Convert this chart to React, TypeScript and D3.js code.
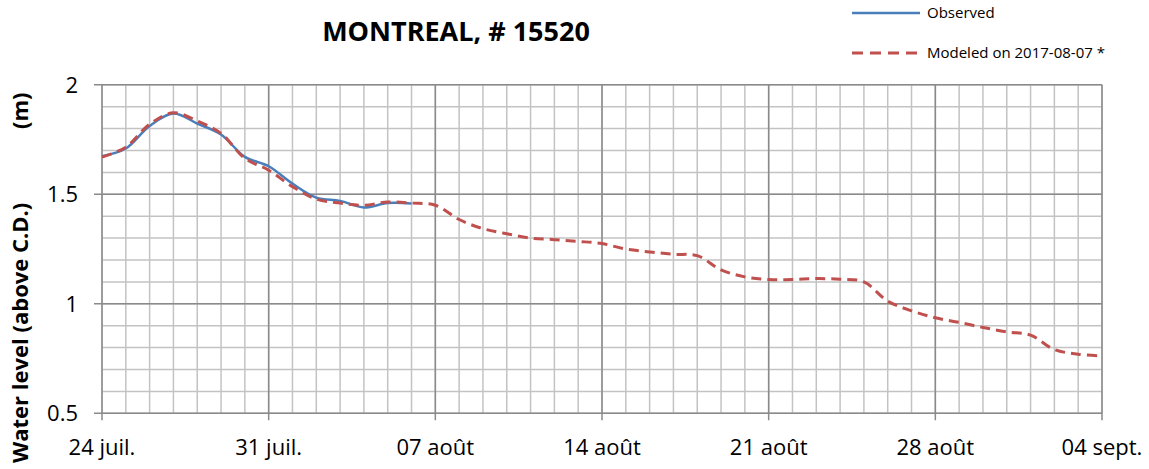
import React, { useEffect, useRef } from 'react';
import * as d3 from 'd3';

// daily water levels, starting 2017-07-24
const observedLevels = [1.674, 1.709, 1.812, 1.869, 1.823, 1.773, 1.671, 1.628, 1.549, 1.485, 1.47, 1.44, 1.46, 1.458];
const modeledLevels = [
  1.67, 1.715, 1.82, 1.872, 1.835, 1.778, 1.664, 1.61, 1.535, 1.478, 1.46, 1.45, 1.465, 1.46,
  1.45, 1.385, 1.343, 1.32, 1.3, 1.293, 1.285, 1.275, 1.25, 1.237, 1.226, 1.22, 1.155, 1.123,
  1.111, 1.111, 1.115, 1.112, 1.1, 1.012, 0.968, 0.936, 0.915, 0.892, 0.872, 0.857, 0.791, 0.77, 0.762,
];
const xTickLabels = ['24 juil.', '31 juil.', '07 août', '14 août', '21 août', '28 août', '04 sept.'];
const yTickValues = [0.5, 1, 1.5, 2];

const startDate = new Date(2017, 6, 24);
const endDate = new Date(2017, 8, 4);

const W = 1149;
const H = 469;
const FONT = '"Open Sans", "Noto Sans", sans-serif';

const App = () => {
  const ref = useRef<SVGSVGElement | null>(null);

  useEffect(() => {
    document.body.style.margin = '0';
    const svg = d3.select(ref.current);
    svg.selectAll('*').remove();

    const x = d3.scaleTime().domain([startDate, endDate]).range([102, 1102]);
    const y = d3.scaleLinear().domain([0.5, 2]).range([413.3, 84.8]);

    const nDays = d3.timeDay.count(startDate, endDate);
    const days = d3.range(0, nDays + 1).map(i => d3.timeDay.offset(startDate, i));
    const weeks = d3.range(0, nDays + 1, 7).map(i => d3.timeDay.offset(startDate, i));
    const minorY = d3.range(5, 21).map(v => v / 10);

    const grid = svg.append('g');
    // minor grid
    grid.selectAll('.vmin')
      .data(days)
      .join('line')
      .attr('x1', d => x(d)).attr('x2', d => x(d))
      .attr('y1', y(2)).attr('y2', y(0.5))
      .attr('stroke', '#c3c3c3').attr('stroke-width', 1.5);
    grid.selectAll('.hmin')
      .data(minorY)
      .join('line')
      .attr('x1', x(startDate)).attr('x2', x(endDate))
      .attr('y1', d => y(d)).attr('y2', d => y(d))
      .attr('stroke', '#c3c3c3').attr('stroke-width', 1.5);
    // major grid
    grid.selectAll('.vmaj')
      .data(weeks)
      .join('line')
      .attr('x1', d => x(d)).attr('x2', d => x(d))
      .attr('y1', y(2)).attr('y2', y(0.5) + 7)
      .attr('stroke', '#8a8a8a').attr('stroke-width', 1.5);
    grid.selectAll('.hmaj')
      .data(yTickValues)
      .join('line')
      .attr('x1', x(startDate) - 8).attr('x2', x(endDate))
      .attr('y1', d => y(d)).attr('y2', d => y(d))
      .attr('stroke', '#8a8a8a').attr('stroke-width', 1.5);

    // tick labels
    svg.append('g').selectAll('text')
      .data(yTickValues)
      .join('text')
      .attr('x', 78).attr('y', d => y(d))
      .attr('dy', '0.35em')
      .attr('text-anchor', 'end')
      .attr('font-family', FONT).attr('font-size', 22)
      .text(d => String(d));

    svg.append('g').selectAll('text')
      .data(weeks)
      .join('text')
      .attr('x', d => x(d)).attr('y', 455)
      .attr('text-anchor', 'middle')
      .attr('font-family', FONT).attr('font-size', 22)
      .text((d, i) => xTickLabels[i]);

    const line = d3.line<number>()
      .x((d, i) => x(d3.timeDay.offset(startDate, i)))
      .y(d => y(d))
      .curve(d3.curveCatmullRom);

    svg.append('path')
      .datum(observedLevels)
      .attr('d', line)
      .attr('fill', 'none').attr('stroke', '#4a7ebb').attr('stroke-width', 2.5);
    svg.append('path')
      .datum(modeledLevels)
      .attr('d', line)
      .attr('fill', 'none').attr('stroke', '#c0504d').attr('stroke-width', 3)
      .attr('stroke-dasharray', '10,6');

    // title
    svg.append('text')
      .attr('x', 456).attr('y', 41)
      .attr('text-anchor', 'middle')
      .attr('font-family', FONT).attr('font-size', 27).attr('font-weight', 'bold')
      .text('MONTREAL, # 15520');

    // y axis label
    svg.append('text')
      .attr('transform', 'translate(28,463) rotate(-90)')
      .attr('font-family', FONT).attr('font-size', 22).attr('font-weight', 'bold')
      .text('Water level (above C.D.)');
    svg.append('text')
      .attr('transform', 'translate(28,129) rotate(-90)')
      .attr('font-family', FONT).attr('font-size', 22).attr('font-weight', 'bold')
      .text('(m)');

    // legend
    const legend = svg.append('g');
    legend.append('line')
      .attr('x1', 852).attr('x2', 920).attr('y1', 13).attr('y2', 13)
      .attr('stroke', '#4a7ebb').attr('stroke-width', 2.5);
    legend.append('text')
      .attr('x', 927).attr('y', 18)
      .attr('font-family', FONT).attr('font-size', 15)
      .text('Observed');
    legend.append('line')
      .attr('x1', 852).attr('x2', 920).attr('y1', 53).attr('y2', 53)
      .attr('stroke', '#c0504d').attr('stroke-width', 3)
      .attr('stroke-dasharray', '11,7');
    legend.append('text')
      .attr('x', 927).attr('y', 58)
      .attr('font-family', FONT).attr('font-size', 15)
      .text('Modeled on 2017-08-07 *');
  }, []);

  return <svg ref={ref} width={W} height={H} style={{ display: 'block', background: '#fff' }} />;
};

export default App;
